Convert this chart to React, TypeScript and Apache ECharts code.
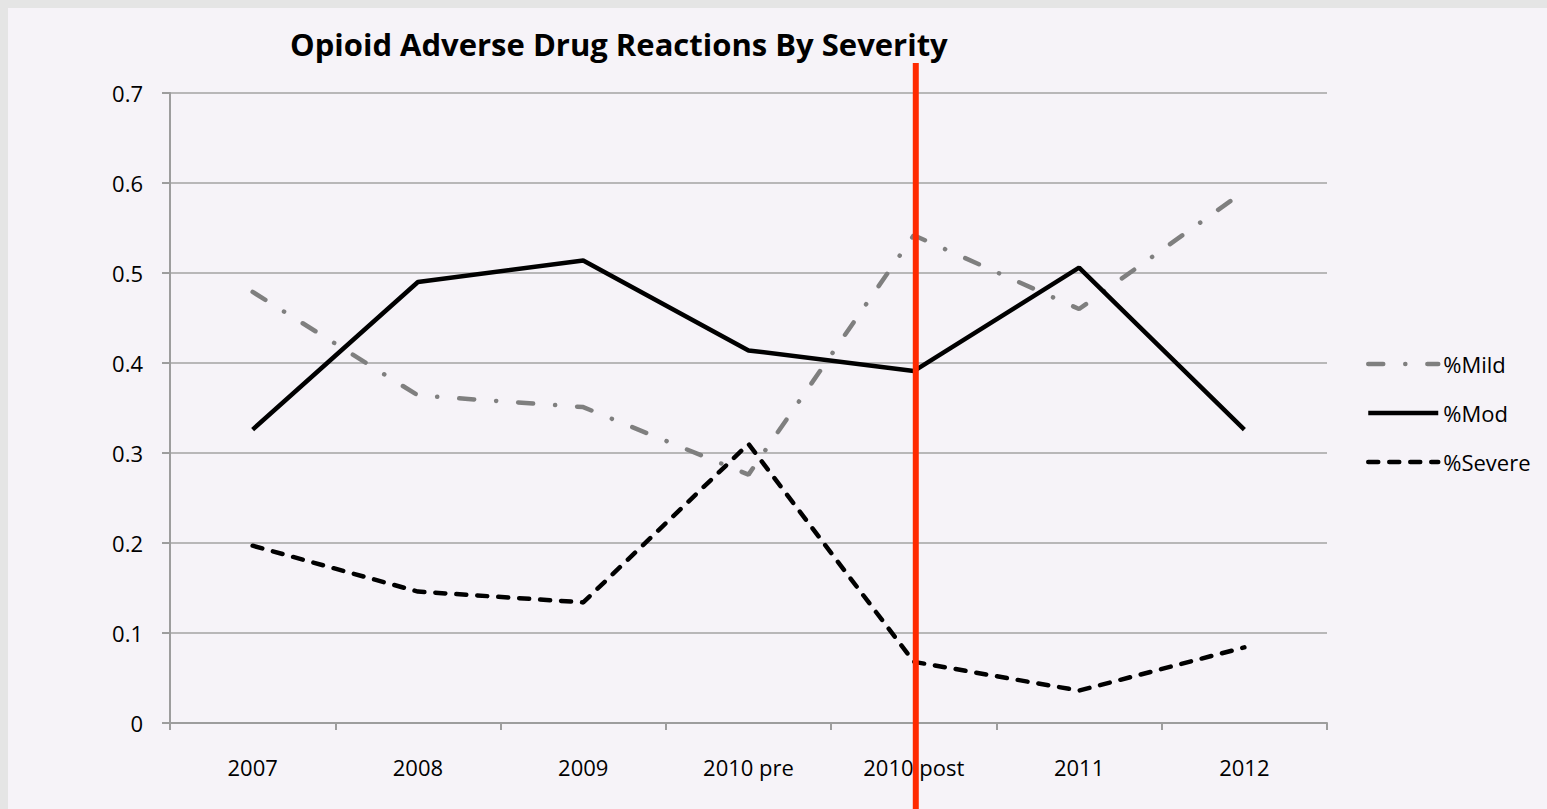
import React, { useEffect, useRef } from "react";
import * as echarts from "echarts";

const categories = ["2007", "2008", "2009", "2010 pre", "2010 post", "2011", "2012"];
const mild = [0.479, 0.364, 0.351, 0.276, 0.542, 0.46, 0.591];
const mod = [0.326, 0.49, 0.514, 0.414, 0.391, 0.506, 0.326];
const severe = [0.197, 0.146, 0.134, 0.31, 0.068, 0.036, 0.084];
const seriesNames = ["%Mild", "%Mod", "%Severe"];
const markerCategory = "2010 post";
const titleText = "Opioid Adverse Drug Reactions By Severity";

const FONT = "'Open Sans', 'Liberation Sans', sans-serif";

export default function App() {
  const ref = useRef<HTMLDivElement>(null);
  useEffect(() => {
    document.body.style.overflow = "hidden";
    const chart = echarts.init(ref.current!, undefined, { renderer: "svg" });
    const option: any = {
      animation: false,
      backgroundColor: "#f6f3f8",
      title: {
        text: titleText,
        left: 282,
        top: 20,
        padding: 0,
        textStyle: { fontFamily: FONT, fontSize: 31, fontWeight: "bold", color: "#000" },
      },
      legend: {
        orient: "vertical",
        left: 1358,
        top: 345,
        padding: 0,
        itemWidth: 70,
        itemHeight: 24,
        itemGap: 27,
        itemStyle: { opacity: 0 },
        lineStyle: { width: "inherit" },
        textStyle: { fontFamily: FONT, fontSize: 22, color: "#000" },
        data: seriesNames,
      },
      grid: { left: 162, right: 220, top: 85, bottom: 86, containLabel: false },
      xAxis: {
        type: "category",
        data: categories,
        boundaryGap: true,
        axisLine: { lineStyle: { color: "#9d9d9d", width: 2 } },
        axisTick: { show: true, length: 7, lineStyle: { color: "#9d9d9d", width: 2 } },
        axisLabel: { fontFamily: FONT, fontSize: 22, color: "#000", margin: 33 },
        splitLine: { show: false },
      },
      yAxis: {
        type: "value",
        min: 0,
        max: 0.7,
        interval: 0.1,
        axisLine: { show: true, lineStyle: { color: "#9d9d9d", width: 2 } },
        axisTick: { show: true, length: 8, lineStyle: { color: "#9d9d9d", width: 2 } },
        axisLabel: { fontFamily: FONT, fontSize: 22, color: "#000", margin: 27 },
        splitLine: { show: true, lineStyle: { color: "#a3a3a3", width: 1.5 } },
      },
      series: [
        {
          name: seriesNames[0],
          type: "line",
          data: mild,
          symbol: "none",
          color: "#7f7f7f",
          lineStyle: { color: "#7f7f7f", width: 4.5, type: [15, 22, 0.1, 22], cap: "round" },
        },
        {
          name: seriesNames[1],
          type: "line",
          data: mod,
          symbol: "none",
          color: "#000",
          lineStyle: { color: "#000", width: 4.5, type: "solid" },
        },
        {
          name: seriesNames[2],
          type: "line",
          data: severe,
          symbol: "none",
          color: "#000",
          lineStyle: { color: "#000", width: 4.5, type: [10, 11], cap: "round" },
        },
      ],
    };
    chart.setOption(option);
    const px = chart.convertToPixel({ xAxisIndex: 0 }, markerCategory) as number;
    chart.setOption({
      graphic: [
        {
          type: "line",
          z: 100,
          shape: { x1: px + 2, y1: 55, x2: px + 2, y2: 801 },
          style: { stroke: "#ff2a00", lineWidth: 6 },
        },
      ],
    });
    return () => chart.dispose();
  }, []);
  return (
    <div
      style={{
        position: "absolute",
        left: 0,
        top: 0,
        width: 1547,
        height: 809,
        background: "#e5e5e5",
        overflow: "hidden",
      }}
    >
      <div
        ref={ref}
        style={{ position: "absolute", left: 8, top: 8, width: 1539, height: 801 }}
      />
    </div>
  );
}
